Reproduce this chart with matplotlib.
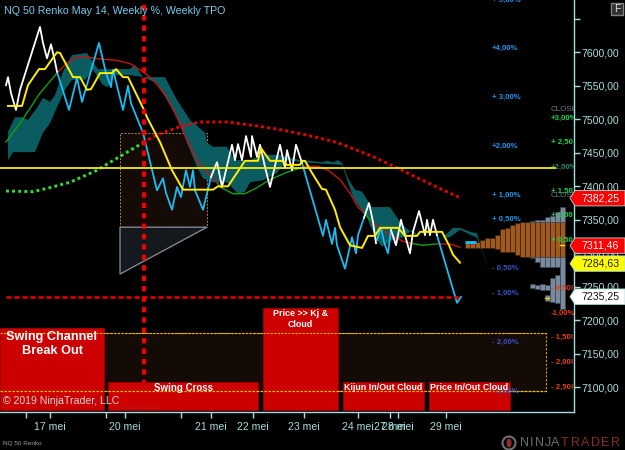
import matplotlib
matplotlib.use('Agg')
import matplotlib.pyplot as plt
from matplotlib.patches import Rectangle, Polygon, Ellipse

plt.rcParams['font.family'] = ['Liberation Sans', 'DejaVu Sans']

# ---- price segments (x = bar position, y = price) ----
white1_x = [6, 8, 11, 16, 20, 40, 43, 47, 51, 55, 57]
white1_y = [7551, 7563, 7539, 7514, 7544, 7638, 7614, 7591, 7612, 7586, 7571]
cyan1_x = [57, 69, 77, 82, 99, 106, 111, 113, 123, 128, 131, 143, 157, 163, 166, 172, 177, 181, 186, 190, 193, 195, 203, 211]
cyan1_y = [7571, 7514, 7562, 7526, 7614, 7569, 7548, 7574, 7514, 7550, 7524, 7480, 7394, 7412, 7390, 7365, 7399, 7384, 7424, 7399, 7424, 7394, 7365, 7414]
white2_x = [211, 217, 222, 232, 235, 238, 242, 246, 251, 252, 257, 260, 265, 270, 280, 285, 287, 292, 296, 302]
white2_y = [7414, 7436, 7399, 7462, 7439, 7463, 7439, 7475, 7444, 7475, 7444, 7462, 7429, 7399, 7462, 7427, 7454, 7424, 7462, 7435]
cyan2_x = [302, 312, 323, 326, 332, 335, 337, 345, 352, 356, 358, 364]
cyan2_y = [7435, 7383, 7326, 7350, 7314, 7338, 7312, 7277, 7324, 7300, 7327, 7353]
white3_x = [364, 369, 373, 376]
white3_y = [7353, 7375, 7347, 7315]
cyan3_x = [377, 381, 384, 388, 391]
cyan3_y = [7320, 7338, 7317, 7300, 7335]
white4_x = [391, 396, 401, 405, 410, 413, 419, 425, 427, 430, 433, 437]
white4_y = [7335, 7312, 7350, 7327, 7300, 7332, 7363, 7327, 7350, 7327, 7350, 7327]
cyan4_x = [437, 457, 461]
cyan4_y = [7327, 7226, 7235]

yellow_x = [8, 22, 28, 39, 45, 57, 60, 73, 80, 87, 91, 100, 112, 116, 123, 128, 144, 147, 160, 172, 183, 213, 218, 228, 245, 258, 261, 270, 282, 287, 300, 302, 305, 312, 322, 326, 335, 340, 350, 362, 368, 375, 380, 398, 405, 417, 420, 442, 449, 453, 460]
yellow_y = [7520, 7520, 7551, 7575, 7575, 7600, 7599, 7563, 7563, 7544, 7545, 7569, 7569, 7575, 7563, 7563, 7514, 7503, 7466, 7424, 7395, 7395, 7400, 7400, 7438, 7438, 7457, 7438, 7438, 7432, 7432, 7438, 7438, 7420, 7396, 7395, 7365, 7339, 7312, 7308, 7326, 7326, 7338, 7338, 7326, 7326, 7332, 7332, 7312, 7298, 7286]

kgreen1_x = [6, 20, 40, 57]
kgreen1_y = [7466, 7494, 7539, 7569]
kred1_x = [57, 67, 77, 87, 100, 117, 130, 143, 153, 167, 177, 187, 197, 207, 217]
kred1_y = [7569, 7584, 7593, 7593, 7590, 7588, 7583, 7571, 7559, 7533, 7503, 7469, 7439, 7421, 7406]
kgreen2_x = [217, 220, 233, 245, 257, 270, 287, 300]
kgreen2_y = [7406, 7399, 7389, 7389, 7398, 7410, 7421, 7427]
kred2_x = [300, 305, 318, 328, 340, 350, 358, 363]
kred2_y = [7427, 7430, 7430, 7424, 7410, 7390, 7369, 7362]
kgreen3_x = [363, 372]
kgreen3_y = [7362, 7347]
kred3_x = [372, 387, 403, 410]
kred3_y = [7347, 7330, 7318, 7315]
kgreen4_x = [410, 423, 437]
kgreen4_y = [7315, 7312, 7314]
kred4_x = [437, 450, 460]
kred4_y = [7314, 7314, 7309]

dot_green_x = [6, 33, 50, 70, 97, 117, 143]
dot_green_y = [7393, 7392, 7398, 7406, 7424, 7442, 7465]
dot_red_x = [143, 157, 180, 200, 227, 253, 283, 305, 320, 338, 372, 402, 438, 460]
dot_red_y = [7465, 7477, 7489, 7496, 7496, 7491, 7484, 7477, 7472, 7465, 7445, 7424, 7398, 7383]

cloud_up_x = [8, 15, 22, 28, 37, 43, 50, 55, 63, 72, 87, 93, 98, 130, 135, 143, 165, 177, 190, 205, 207, 213, 227, 235, 250, 262, 280, 300, 310, 322, 327, 333, 338, 342, 348, 355, 362, 372, 390, 400, 405, 413, 420]
cloud_up_y = [7481, 7503, 7503, 7499, 7517, 7532, 7526, 7536, 7571, 7596, 7599, 7585, 7575, 7575, 7581, 7563, 7563, 7529, 7499, 7480, 7465, 7459, 7459, 7439, 7439, 7447, 7447, 7439, 7438, 7436, 7438, 7436, 7439, 7435, 7412, 7395, 7392, 7369, 7369, 7347, 7339, 7330, 7324]
cloud_lo_x = [8, 13, 35, 43, 50, 57, 65, 72, 85, 93, 103, 108, 113, 130, 143, 157, 177, 187, 197, 203, 213, 227, 238, 245, 250, 263, 277, 287, 310, 342, 353, 358, 367, 370, 377, 382, 393, 403, 412, 420]
cloud_lo_y = [7439, 7451, 7451, 7480, 7494, 7518, 7544, 7559, 7559, 7574, 7551, 7548, 7566, 7566, 7563, 7554, 7503, 7465, 7429, 7412, 7406, 7406, 7389, 7392, 7406, 7409, 7420, 7439, 7435, 7432, 7384, 7372, 7354, 7342, 7320, 7310, 7320, 7324, 7335, 7324]
cloud2_up_x = [443, 453, 460, 470, 477, 482, 490]
cloud2_up_y = [7324, 7338, 7338, 7332, 7330, 7305, 7271]
cloud2_lo_x = [445, 450, 460, 477, 490]
cloud2_lo_y = [7323, 7324, 7335, 7323, 7271]

# ---- TPO profile ----
prof_x = [465, 470, 475, 480, 485, 490, 495, 500, 505, 510, 515, 520, 525, 530, 535, 540, 545, 550, 555, 560]
brown_top = [7315, 7315, 7317, 7320, 7323, 7323, 7327, 7336, 7338, 7342, 7345, 7347, 7347, 7347, 7347, 7347, 7347, 7347, 7347, 7347]
brown_bot = [7308, 7308, 7308, 7308, 7308, 7308, 7306, 7302, 7302, 7302, 7297, 7294, 7294, 7294, 7294, 7294, 7294, 7294, 7294, 7294]
grey_up_x = [530, 535, 540, 545, 550, 555, 560]
grey_up_top = [7348, 7350, 7350, 7354, 7356, 7362, 7369]
grey_lo_x = [530, 535, 540, 545, 550, 555, 560]
grey_lo_bot = [7293, 7287, 7280, 7280, 7280, 7280, 7217]
grey2_x = [530, 535, 540, 545, 545, 550, 555]
grey2_top = [7254, 7253, 7254, 7253, 7238, 7263, 7268]
grey2_bot = [7248, 7247, 7245, 7245, 7229, 7227, 7226]

# ---- annotations ----
bar_labels = ['Swing Channel\nBreak Out', 'Swing Cross', 'Price >> Kj &\nCloud', 'Kijun In/Out Cloud', 'Price In/Out Cloud']
bar_left = [0, 108, 263, 343, 429]
bar_right = [104, 258, 338, 424, 510]
bar_top = [7188, 7108, 7218, 7108, 7108]
bar_bottom = 7066
bar_sizes = [9.2, 7.0, 6.4, 6.4, 6.4]
bar_pads = [4, 1.5, 1.5, 1.5, 1.5]

pos_pct = ['+ 5,00%', '+4,00%', '+ 3,00%', '+2,00%', '+ 1,00%', '+ 0,50%']
pos_pct_y = [7678, 7606, 7533, 7459, 7386, 7350]
neg_pct = ['- 0,50%', '- 1,00%', '- 2,00%', '- 3,00%']
neg_pct_y = [7277, 7240, 7167, 7094]
green_pct = ['+3,00%', '+ 2,50', '+ 1,50', '+ 1,00', '+ 0,50']
green_pct_y = [7502, 7465, 7393, 7357, 7320]
red_pct = ['- 0,50!', '-1,00%', '- 1,50!', '- 2,00!', '- 2,50!']
red_pct_y = [7247, 7211, 7174, 7137, 7100]

y_ticks = [7100, 7150, 7200, 7250, 7300, 7350, 7400, 7450, 7500, 7550, 7600]
x_ticks = [26, 50, 106, 125, 181, 211, 253, 304, 358, 390, 398, 446]
x_labels = ['', '17 mei', '', '20 mei', '', '21 mei', '22 mei', '23 mei', '24 mei', '27 mei', '28 mei', '29 mei']

flag_vals = [7382.25, 7311.46, 7284.63, 7235.25]
flag_faces = ['#ff0000', '#ff0000', '#ffff00', '#ffffff']
flag_text = ['#ffffff', '#ffffff', '#222200', '#111111']

hline_yellow = 7428
hline_red = 7235
vline_red = 143.5

AX = '#a8dcdc'
fig = plt.figure(figsize=(6.25, 4.5), dpi=100, facecolor='black')
ax = fig.add_axes([0, 38 / 450, 574 / 625, 412 / 450], facecolor='black')
ax.set_xlim(0, 574)
ax.set_ylim(7063.1, 7678.1)
for s in ('top', 'left'):
    ax.spines[s].set_visible(False)
for s in ('right', 'bottom'):
    ax.spines[s].set_color(AX)
    ax.spines[s].set_linewidth(1)
ax.yaxis.tick_right()
ax.set_yticks(y_ticks)
ax.set_yticklabels([f'{v},00' for v in y_ticks])
ax.set_yticks([7650], minor=True)
ax.set_xticks(x_ticks)
ax.set_xticklabels(x_labels)
ax.tick_params(axis='y', which='both', colors=AX, labelsize=7.6, length=4, width=1, pad=1.5)
ax.tick_params(axis='x', colors=AX, labelsize=7.6, length=4, width=1, pad=3.5)

# background zones
ax.add_patch(Rectangle((120, 7339), 87, 140, facecolor='#140a06', edgecolor='#b08060', lw=.7, ls=(0, (2, 1.5)), zorder=1))
ax.add_patch(Polygon([(120, 7339), (207, 7339), (120, 7269)], closed=True, facecolor='#15181c', edgecolor='#8a8f99', lw=.9, zorder=1))
ax.add_patch(Rectangle((0, 7095), 546, 86, facecolor='#140a06', edgecolor='#d8a000', lw=.8, ls=(0, (2, 1.5)), zorder=1))

# cloud
ax.add_patch(Polygon(list(zip(cloud_up_x, cloud_up_y)) + list(zip(cloud_lo_x, cloud_lo_y))[::-1], closed=True, facecolor='#0b5c60', edgecolor='none', zorder=2))
ax.add_patch(Polygon(list(zip(cloud2_up_x, cloud2_up_y)) + list(zip(cloud2_lo_x, cloud2_lo_y))[::-1], closed=True, facecolor='#0b5c60', edgecolor='none', zorder=2))

# profile
brown_style = dict(width=5, align='edge', color='#a05a20', edgecolor='#3a2008', linewidth=.5, zorder=3)
grey_style = dict(width=5, align='edge', color='#7a8a9e', edgecolor='#3c4654', linewidth=.5, zorder=3)
ax.bar(prof_x, [t - b for t, b in zip(brown_top, brown_bot)], bottom=brown_bot, **brown_style)
ax.bar(grey_up_x, [t - 7347 for t in grey_up_top], bottom=7347, **grey_style)
ax.bar(grey_lo_x, [7294 - b for b in grey_lo_bot], bottom=grey_lo_bot, **grey_style)
ax.bar(grey2_x, [t - b for t, b in zip(grey2_top, grey2_bot)], bottom=grey2_bot, **grey_style)
ax.plot([465, 476], [7317, 7317], color='#19c0f5', lw=2, zorder=6, solid_capstyle='butt')
ax.plot([560, 564], [7313, 7313], color='#e8d800', lw=1, zorder=6)
ax.plot([545, 549], [7234, 7234], color='#e8d800', lw=1, zorder=6)

# curves
for x, y in ((kgreen1_x, kgreen1_y), (kgreen2_x, kgreen2_y), (kgreen3_x, kgreen3_y), (kgreen4_x, kgreen4_y)):
    ax.plot(x, y, color='#12a012', lw=1, zorder=4)
for x, y in ((kred1_x, kred1_y), (kred2_x, kred2_y), (kred3_x, kred3_y), (kred4_x, kred4_y)):
    ax.plot(x, y, color='#c81414', lw=1, zorder=4)
ax.plot(dot_green_x, dot_green_y, color='#33dd33', lw=2.1, ls=(0, (1, 1.1)), zorder=4)
ax.plot(dot_red_x, dot_red_y, color='#ee0000', lw=2.1, ls=(0, (1, 1.1)), zorder=4)
for x, y in ((cyan1_x, cyan1_y), (cyan2_x, cyan2_y), (cyan3_x, cyan3_y), (cyan4_x, cyan4_y)):
    ax.plot(x, y, color='#19bdf2', lw=1.3, zorder=5)
for x, y in ((white1_x, white1_y), (white2_x, white2_y), (white3_x, white3_y), (white4_x, white4_y)):
    ax.plot(x, y, color='#ffffff', lw=1.3, zorder=5)
ax.plot(yellow_x, yellow_y, color='#ffee00', lw=1.4, zorder=6)

ax.plot([0, 555], [hline_yellow, hline_yellow], color='#f2ee10', lw=1.3, zorder=7)
ax.plot([6, 461], [hline_red, hline_red], color='#ee0000', lw=1.8, ls=(0, (2, 1.2)), zorder=7)
ax.plot([vline_red, vline_red], [7072, 7678], color='#ee0000', lw=3, ls=(0, (1.3, 1.2)), zorder=7)

# signal boxes
for lab, l, r, t, fs, pad in zip(bar_labels, bar_left, bar_right, bar_top, bar_sizes, bar_pads):
    ax.add_patch(Rectangle((l, bar_bottom), r - l, t - bar_bottom, facecolor='#cc0000', edgecolor='#a00000', lw=.6, zorder=8))
    ax.text((l + r) / 2, t - pad, lab, color='#ffffff', fontsize=fs, fontweight='bold', ha='center', va='top', linespacing=1.25, zorder=11)
ax.plot([0, 546], [7181, 7181], color='#e8b800', lw=.8, ls=(0, (2, 1.2)), zorder=9)
ax.plot([0, 546], [7095, 7095], color='#e8c800', lw=.9, ls=(0, (2, 1.2)), zorder=9)

# percent labels
for t, y in zip(pos_pct, pos_pct_y):
    ax.text(492, y, t, color='#1e96f0', fontsize=5.6, fontweight='bold', va='center', ha='left', zorder=10)
for t, y in zip(neg_pct, neg_pct_y):
    ax.text(492, y, t, color='#3a50c8', fontsize=5.6, fontweight='bold', va='center', ha='left', zorder=10)
for t, y in zip(green_pct, green_pct_y):
    ax.text(551, y, t, color='#10d850', fontsize=5.6, fontweight='bold', va='center', ha='left', zorder=10, clip_on=True)
for t, y in zip(red_pct, red_pct_y):
    ax.text(551, y, t, color='#e84010', fontsize=5.6, fontweight='bold', va='center', ha='left', zorder=10, clip_on=True)
ax.text(551, 7429, '+2,00%', color='#2a8a60', fontsize=5.6, fontweight='bold', va='center', ha='left', zorder=6.5, clip_on=True)
ax.text(551, 7515, 'CLOSE', color='#707880', fontsize=5.8, va='center', ha='left', zorder=10, clip_on=True)
ax.text(551, 7387, 'CLOSE', color='#707880', fontsize=5.8, va='center', ha='left', zorder=10, clip_on=True)

ax.text(120, 7070, 'www.fin-ato.com', color='#aa2020', fontsize=4, va='center', ha='left', zorder=10)

# price flags
dy = 11.5
for v, fc, tc in zip(flag_vals, flag_faces, flag_text):
    ax.add_patch(Polygon([(570, v), (575, v + dy), (625, v + dy), (625, v - dy), (575, v - dy)], closed=True,
                         facecolor=fc, edgecolor='#a8dcdc', lw=.6, zorder=20, clip_on=False))
    ax.text(581, v, f'{v:.2f}'.replace('.', ','), color=tc, fontsize=7.6, va='center', ha='left', zorder=21, clip_on=False)

# page text (figure pixels)
def px(x, y):
    return x / 625, 1 - y / 450

fig.text(*px(4, 11), 'NQ 50 Renko May 14, Weekly %, Weekly TPO', color='#78cdf0', fontsize=7.7, va='center', ha='left')
fig.text(*px(3, 401), '\u00a9 2019 NinjaTrader, LLC', color='#d8d8d8', fontsize=7.6, va='center', ha='left', zorder=30)
fig.text(*px(3, 443), 'NQ 50 Renko', color='#a0a0a0', fontsize=4.6, va='center', ha='left')
fig.patches.append(Rectangle(px(611, 15), 12 / 625, 12 / 450, transform=fig.transFigure, facecolor='#303030', edgecolor='#808080', lw=1))
fig.text(*px(617, 9), 'F', color='#e0e0e0', fontsize=7.5, va='center', ha='center')

logo_letters = list('NINJATRADER')
logo_x = [520, 530, 535, 545, 551, 561, 571, 581, 591, 601, 611]
for ch, x in zip(logo_letters, logo_x):
    col = '#6e6e6e' if x < 560 else '#8a2f2a'
    fig.text(*px(x, 443), ch, color=col, fontsize=9, va='center', ha='left')
fig.patches.append(Ellipse(px(509, 443), 13 / 625, 13 / 450, transform=fig.transFigure, facecolor='none', edgecolor='#707070', lw=1.5))
fig.patches.append(Ellipse(px(509, 443), 5 / 625, 9 / 450, transform=fig.transFigure, facecolor='#8a2f2a', edgecolor='none'))

fig.savefig('out.png', dpi=100, facecolor='black')
